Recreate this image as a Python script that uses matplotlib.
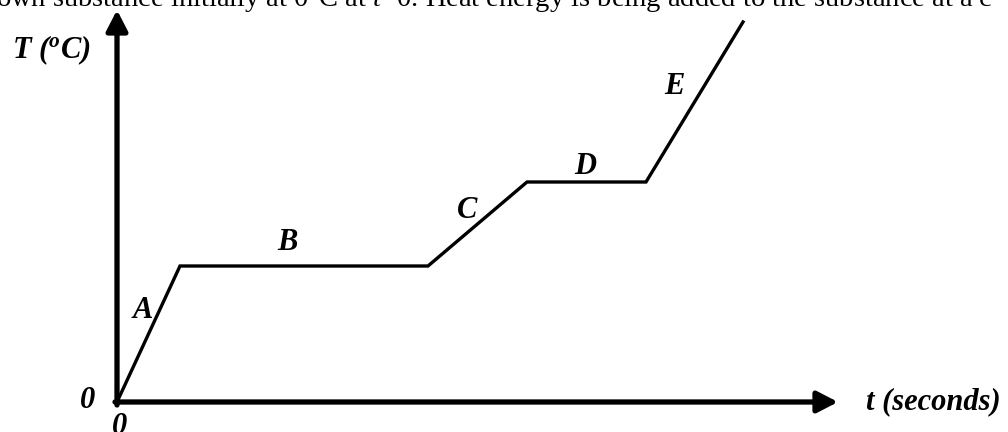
import matplotlib.pyplot as plt

# heating curve (arbitrary units, origin at 0,0)
time_pts = [0, 6.3, 31.1, 41.0, 52.9, 62.6]
temp_pts = [0, 13.6, 13.6, 22.0, 22.0, 38.0]
segment_names = ['A', 'B', 'C', 'D', 'E']
# where each segment letter sits
label_x = [2.6, 17.0, 35.0, 46.8, 55.7]
label_y = [9.1, 16.0, 19.1, 23.6, 31.6]

plt.rcParams['mathtext.fontset'] = 'custom'
plt.rcParams['mathtext.it'] = 'Liberation Serif:italic'
plt.rcParams['mathtext.bf'] = 'Liberation Serif:bold:italic'
plt.rcParams['mathtext.rm'] = 'Liberation Serif'

fig = plt.figure(figsize=(10.08, 4.32), dpi=100)
ax = fig.add_axes([0, 0, 1, 1])
ax.set_xlim(-11.7, 89.1)
ax.set_ylim(-3.0, 40.2)
ax.axis('off')

bold = dict(family='Liberation Serif', weight='bold', style='italic', fontsize=22)

# axes with arrow heads
arrow = dict(arrowstyle='-|>,head_length=0.62,head_width=0.32', lw=3.8,
             color='black', shrinkA=0, shrinkB=0, mutation_scale=20)
ax.annotate('', xy=(0, 39.2), xytext=(0, -0.3), arrowprops=arrow)
ax.annotate('', xy=(72.1, 0), xytext=(-0.2, 0), arrowprops=arrow)

# the curve itself
ax.plot(time_pts, temp_pts, color='black', lw=2.4, solid_joinstyle='miter')

for name, x, y in zip(segment_names, label_x, label_y):
    ax.text(x, y, name, ha='center', va='center', **bold)

ax.text(-2.9, 0.2, '0', ha='center', va='center', **bold)
ax.text(0.3, -2.4, '0', ha='center', va='center', **bold)
ax.text(74.9, 0, 't (seconds)', ha='left', va='center', **bold)
ax.text(-10.5, 35.2, r'T ($\mathbf{^{o}}$C)', ha='left', va='center', **bold)

# clipped sentence from the page above the figure
ax.text(-12.1, 39.5,
        r'own substance initially at 0$^{\mathrm{o}}$C at $t$=0. Heat energy is being added '
        'to the substance at a c',
        ha='left', va='baseline', family='Liberation Serif', fontsize=20.5)

fig.savefig('out.png', dpi=100)
